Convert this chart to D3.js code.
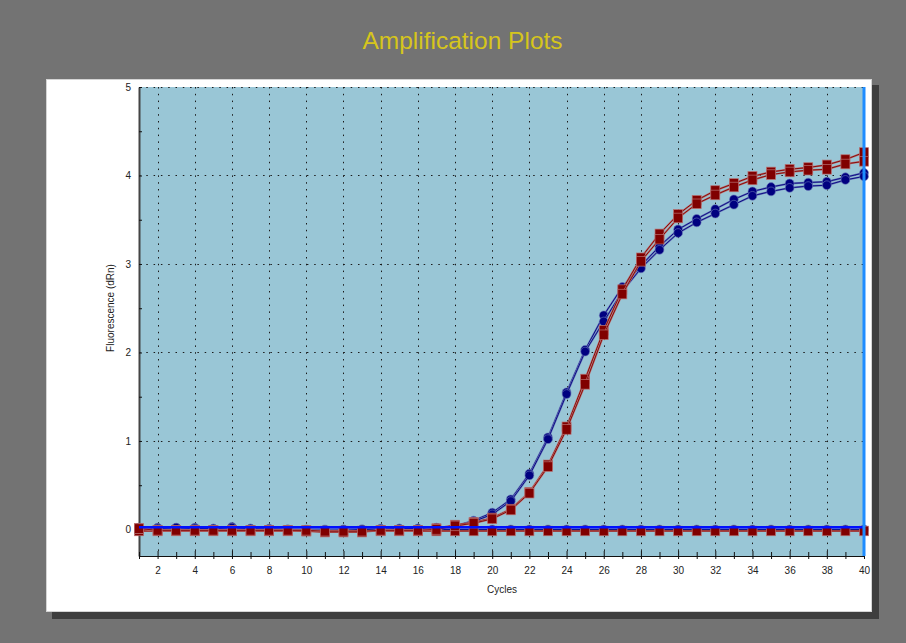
<!DOCTYPE html>
<html>
<head>
<meta charset="utf-8">
<script src="https://cdn.jsdelivr.net/npm/d3@7"></script>
<style>
  body { margin: 0; background: #737373; }
  svg { display: block; font-family: "Liberation Sans", Arial, sans-serif; }
</style>
</head>
<body>
<div id="chart"></div>
<script>
// Amplification plot //
// cycles 1..40
var cycles = d3.range(1, 41);
var yTicks = [0, 1, 2, 3, 4, 5];
var threshold = 0.025;

// fluorescence (dRn) per cycle
var blueA = [0.02, 0.02, 0.02, 0.02, 0.01, 0.03, 0.01, 0.01, 0.00, -0.02,
    -0.01, 0.00, 0.00, 0.01, 0.01, 0.01, 0.02, 0.04, 0.10, 0.19,
    0.34, 0.63, 1.04, 1.55, 2.03, 2.42, 2.74, 2.98, 3.20, 3.39,
    3.51, 3.62, 3.73, 3.82, 3.87, 3.91, 3.92, 3.93, 3.98, 4.03];
var blueB = [0.02, 0.01, 0.02, 0.01, 0.01, 0.02, 0.01, 0.00, 0.00, -0.01,
    -0.01, -0.01, 0.00, 0.00, 0.01, 0.01, 0.02, 0.03, 0.09, 0.17,
    0.32, 0.61, 1.02, 1.53, 2.01, 2.35, 2.69, 2.95, 3.16, 3.35,
    3.47, 3.57, 3.67, 3.77, 3.82, 3.86, 3.88, 3.89, 3.95, 3.99];
var redA = [0.01, -0.01, -0.01, -0.01, -0.01, -0.01, -0.01, -0.01, -0.01, -0.02,
    -0.03, -0.03, -0.03, -0.01, -0.01, -0.01, 0.01, 0.05, 0.08, 0.13,
    0.23, 0.42, 0.73, 1.16, 1.70, 2.25, 2.71, 3.07, 3.34, 3.56,
    3.72, 3.83, 3.91, 3.99, 4.04, 4.07, 4.09, 4.12, 4.18, 4.26];
var redB = [0.01, -0.01, -0.01, -0.01, -0.01, -0.01, -0.01, -0.01, -0.01, -0.01,
    -0.02, -0.02, -0.02, -0.01, -0.01, -0.01, 0.00, 0.04, 0.07, 0.12,
    0.22, 0.41, 0.71, 1.13, 1.64, 2.20, 2.66, 3.03, 3.28, 3.52,
    3.68, 3.78, 3.87, 3.95, 4.01, 4.04, 4.06, 4.07, 4.13, 4.16];
// no-template controls, flat
var blueNtc = cycles.map(() => 0.0);
var redNtc = cycles.map(() => -0.017);

var W = 906, H = 643;
var svg = d3.select('#chart')
    .append('svg')
    .attr('width', W)
    .attr('height', H);

svg.append('rect').attr('width', W).attr('height', H).attr('fill', '#737373');

// title
svg.append('text')
    .attr('x', 462.5).attr('y', 49)
    .attr('text-anchor', 'middle')
    .attr('font-size', 24.5)
    .attr('fill', '#d6c51c')
    .text('Amplification Plots');

// white panel + shadow
svg.append('rect').attr('x', 52).attr('y', 85).attr('width', 827).attr('height', 534).attr('fill', '#3e3e3e');
svg.append('rect').attr('x', 46.5).attr('y', 79.5).attr('width', 825).attr('height', 532)
    .attr('fill', '#fff').attr('stroke', '#d4d4d4');

// scales
var x = d3.scaleLinear().domain([1, 40]).range([139, 864]);
var y = d3.scaleLinear().domain([-0.3, 5]).range([556, 87]);

// plot background
svg.append('rect')
    .attr('x', x(1)).attr('y', y(5))
    .attr('width', x(40) - x(1)).attr('height', y(-0.3) - y(5))
    .attr('fill', '#99c6d6');

// dotted grid
svg.append('g').selectAll('line')
    .data(cycles.filter(d => d % 2 === 0 && d < 40))
    .enter().append('line')
        .attr('x1', d => Math.round(x(d)) + 0.5).attr('x2', d => Math.round(x(d)) + 0.5)
        .attr('y1', y(5)).attr('y2', y(-0.3))
        .attr('stroke', '#1a1a1a').attr('stroke-dasharray', '1.5,5.3');
svg.append('g').selectAll('line')
    .data(yTicks)
    .enter().append('line')
        .attr('x1', x(1)).attr('x2', x(40))
        .attr('y1', d => Math.round(y(d)) + 0.5).attr('y2', d => Math.round(y(d)) + 0.5)
        .attr('stroke', '#1a1a1a').attr('stroke-dasharray', '1.5,5.8');

// axes
var yAxis = svg.append('g')
    .attr('transform', 'translate(' + x(1) + ',0)')
    .call(d3.axisLeft(y).tickValues(d3.range(0, 5.01, 0.5))
        .tickFormat(d => Number.isInteger(d) ? d : '')
        .tickSizeInner(4).tickSizeOuter(0).tickPadding(4));
yAxis.select('.domain').attr('stroke', '#444').attr('stroke-width', 2);
yAxis.selectAll('.tick line').attr('x2', 3).attr('stroke', '#111');
yAxis.selectAll('text').attr('font-size', 10).attr('fill', '#222');

var xAxis = svg.append('g')
    .attr('transform', 'translate(0,' + y(-0.3) + ')')
    .call(d3.axisBottom(x).tickValues(cycles)
        .tickFormat(d => d % 2 === 0 ? d : '')
        .tickSizeInner(3).tickSizeOuter(0).tickPadding(8));
xAxis.select('.domain').attr('stroke', '#111');
xAxis.selectAll('.tick line').attr('y1', d => d % 2 === 0 ? -5 : -4).attr('stroke', '#111');
xAxis.selectAll('text').attr('font-size', 10).attr('fill', '#222');

svg.append('text')
    .attr('x', 502).attr('y', 593)
    .attr('text-anchor', 'middle').attr('font-size', 10).attr('fill', '#222')
    .text('Cycles');
svg.append('text')
    .attr('transform', 'translate(114,308) rotate(-90)')
    .attr('text-anchor', 'middle').attr('font-size', 10).attr('fill', '#222')
    .text('Fluorescence (dRn)');

// series
var line = d3.line().x((d, i) => x(cycles[i])).y(d => y(d));

function drawSeries(vals, color, halo, shape) {
    var g = svg.append('g');
    g.append('path').attr('d', line(vals)).attr('fill', 'none')
        .attr('stroke', halo).attr('stroke-width', 2);
    g.append('path').attr('d', line(vals)).attr('fill', 'none')
        .attr('stroke', color).attr('stroke-width', 0.9);
    if (shape === 'square') {
        g.selectAll('rect').data(vals).enter().append('rect')
            .attr('x', (d, i) => x(cycles[i]) - 4.5)
            .attr('y', d => y(d) - 4.8)
            .attr('width', 9).attr('height', 9.6)
            .attr('fill', color).attr('stroke', halo).attr('stroke-width', 0.7);
    } else {
        g.selectAll('circle').data(vals).enter().append('circle')
            .attr('cx', (d, i) => x(cycles[i]))
            .attr('cy', d => y(d))
            .attr('r', 4.4)
            .attr('fill', color).attr('stroke', halo).attr('stroke-width', 0.6);
    }
}

drawSeries(blueNtc, '#000080', '#6a78b8', 'circle');
drawSeries(blueA, '#000080', '#6a78b8', 'circle');
drawSeries(blueB, '#000080', '#6a78b8', 'circle');
drawSeries(redNtc, '#800000', '#b87070', 'square');
drawSeries(redA, '#800000', '#b87070', 'square');
drawSeries(redB, '#800000', '#b87070', 'square');

// threshold line
svg.append('line')
    .attr('x1', x(1)).attr('x2', x(40))
    .attr('y1', y(threshold)).attr('y2', y(threshold))
    .attr('stroke', '#0010ff').attr('stroke-width', 2.5);

// end-of-run marker
svg.append('line')
    .attr('x1', x(40)).attr('x2', x(40))
    .attr('y1', y(5)).attr('y2', y(-0.3))
    .attr('stroke', '#1e8cff').attr('stroke-width', 3);
</script>
</body>
</html>
